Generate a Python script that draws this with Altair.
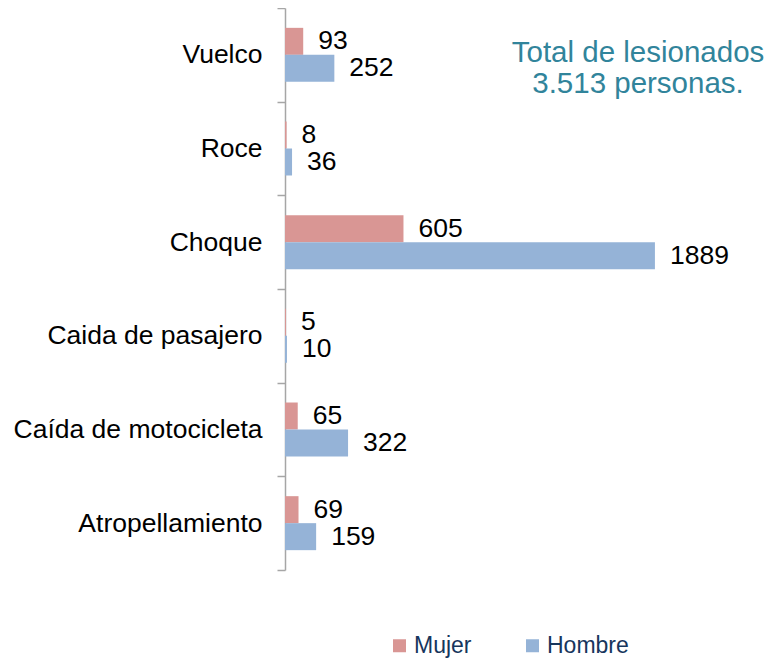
import altair as alt
import pandas as pd

categories = ["Vuelco", "Roce", "Choque", "Caida de pasajero", "Caída de motocicleta", "Atropellamiento"]
mujer = [93, 8, 605, 5, 65, 69]
hombre = [252, 36, 1889, 10, 322, 159]
series = ["Mujer", "Hombre"]
colors = ["#D99694", "#95B3D7"]
note = "Total de lesionados\n3.513 personas."

rows = []
for c, m, h in zip(categories, mujer, hombre):
    rows.append({"categoria": c, "sexo": "Mujer", "valor": m})
    rows.append({"categoria": c, "sexo": "Hombre", "valor": h})
df = pd.DataFrame(rows)

FONT = "Liberation Sans"

base = alt.Chart(df).encode(
    y=alt.Y(
        "categoria:N",
        sort=categories,
        scale=alt.Scale(paddingInner=0, paddingOuter=0),
        axis=alt.Axis(
            title=None,
            tickBand="extent",
            tickSize=8,
            tickColor="#A6A6A6",
            tickWidth=1.5,
            domainColor="#A6A6A6",
            domainWidth=1.5,
            labelFont=FONT,
            labelFontSize=26.5,
            labelColor="#000000",
            labelPadding=15,
            labelLimit=0,
            grid=False,
        ),
    ),
    yOffset=alt.YOffset(
        "sexo:N", sort=series, scale=alt.Scale(paddingInner=0, paddingOuter=0.735)
    ),
    x=alt.X("valor:Q", scale=alt.Scale(domain=[0, 2400]), axis=None),
)

bars = base.mark_bar().encode(
    color=alt.Color(
        "sexo:N",
        sort=series,
        scale=alt.Scale(domain=series, range=colors),
        legend=alt.Legend(
            title=None,
            orient="none",
            direction="horizontal",
            legendX=103,
            legendY=626,
            symbolType="square",
            symbolSize=169,
            symbolStrokeWidth=0,
            labelFont=FONT,
            labelFontSize=23,
            labelColor="#17365D",
            labelOffset=3,
            columnPadding=49,
            padding=0,
        ),
    )
)

labels = base.mark_text(
    align="left", baseline="middle", dx=15, fontSize=26.5, font=FONT, color="#000000"
).encode(text="valor:Q")

annot = alt.Chart(pd.DataFrame({"t": [note]})).mark_text(
    align="center",
    baseline="alphabetic",
    lineBreak="\n",
    lineHeight=31,
    fontSize=29.5,
    font=FONT,
    color="#31849B",
).encode(text="t:N", x=alt.value(353), y=alt.value(54))

chart = (
    alt.layer(bars, labels, annot)
    .properties(
        width=470,
        height=562,
        autosize=alt.AutoSizeParams(type="none"),
        padding={"left": 277, "top": 0, "right": 10, "bottom": 95},
        background="#FFFFFF",
    )
    .configure_view(stroke=None)
)

chart.save("out.html", embed_options={"renderer": "svg", "actions": False})
